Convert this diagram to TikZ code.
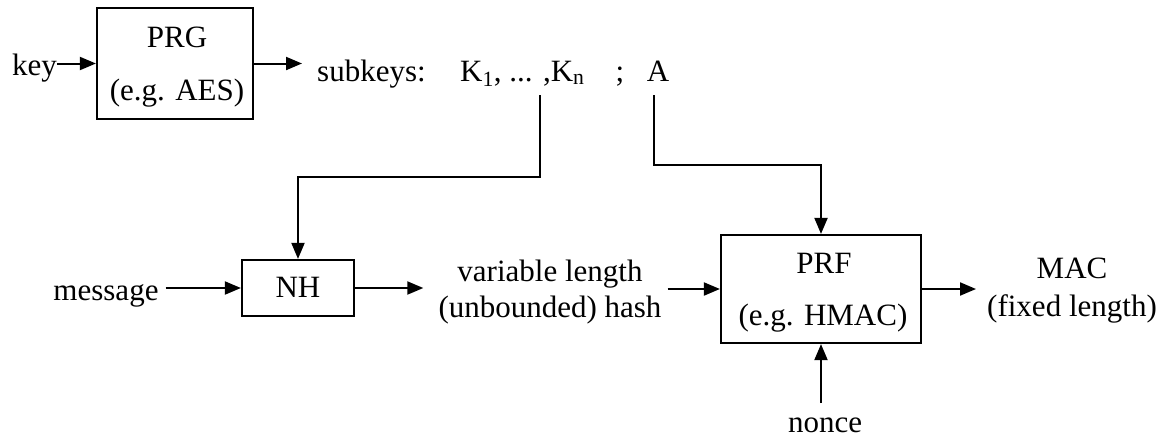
\documentclass[tikz,border=0pt]{standalone}
\usepackage{fontspec}
\setmainfont{Liberation Serif}
\usetikzlibrary{arrows.meta}
\begin{document}
\begin{tikzpicture}[x=1pt,y=-1pt,
  lbl/.style={font=\fontsize{31pt}{37pt}\selectfont, inner sep=0pt, anchor=base},
  blk/.style={draw, line width=2.2pt, inner sep=0pt},
  arr/.style={line width=2pt, -{Triangle[length=16pt,width=13pt]}},
  ln/.style={line width=2pt}]
\useasboundingbox (0,0) rectangle (1170,437);
% PRG block
\node[blk, minimum width=156pt, minimum height=111pt] (prg) at (175,63.5) {};
\node[lbl] (prg1) at (177,47) {PRG};
\node[lbl] (prg2) at (177,100) {(e.g. AES)};
\node[lbl] (key) at (34.5,75) {key};
% subkeys row
\node[lbl, anchor=base west] (sk) at (317,81) {subkeys:};
\node[lbl, anchor=base west] (kk) at (460,81) {K\textsubscript{1}, ... ,K\textsubscript{n}};
\node[lbl] (semi) at (620,81) {;};
\node[lbl] (a) at (658,81) {A};
\coordinate (kn) at (540,95);
\coordinate (kbend) at (540,177);
\coordinate (ka) at (654,95);
\coordinate (abend) at (654,165);
% NH block
\node[blk, minimum width=112pt, minimum height=56pt] (nh) at (298,288) {};
\node[lbl] (nht) at (298,297.5) {NH};
\node[lbl] (msg) at (106,300) {message};
\node[lbl] (var1) at (550,281) {variable length};
\node[lbl] (var2) at (550,317) {(unbounded) hash};
% PRF block
\node[blk, minimum width=200pt, minimum height=108pt] (prf) at (821,289) {};
\node[lbl] (prf1) at (824,273) {PRF};
\node[lbl] (prf2) at (823,325) {(e.g. HMAC)};
\node[lbl] (mac1) at (1072,278) {MAC};
\node[lbl] (mac2) at (1072,316) {(fixed length)};
\node[lbl] (nonce) at (825,432) {nonce};
% connectors
\draw[arr] (key.east |- prg.west) -- (prg.west);
\draw[arr, shorten >=15pt] (prg.east) -- (prg.east -| sk.west);
\draw[arr] (kn) -- (kbend) -| (nh.north);
\draw[arr] (ka) -- (abend) -| (prf.north);
\draw[arr, shorten <=7pt] (msg.east |- nh.west) -- (nh.west);
\draw[arr, shorten >=15pt] (nh.east) -- (nh.east -| var2.west);
\draw[arr, shorten <=6pt] (var2.east |- prf.west) -- (prf.west);
\draw[arr, shorten >=11pt] (prf.east) -- (prf.east -| mac2.west);
\draw[arr] ([yshift=14pt]nonce.north -| prf.south) -- (prf.south);
\end{tikzpicture}
\end{document}
